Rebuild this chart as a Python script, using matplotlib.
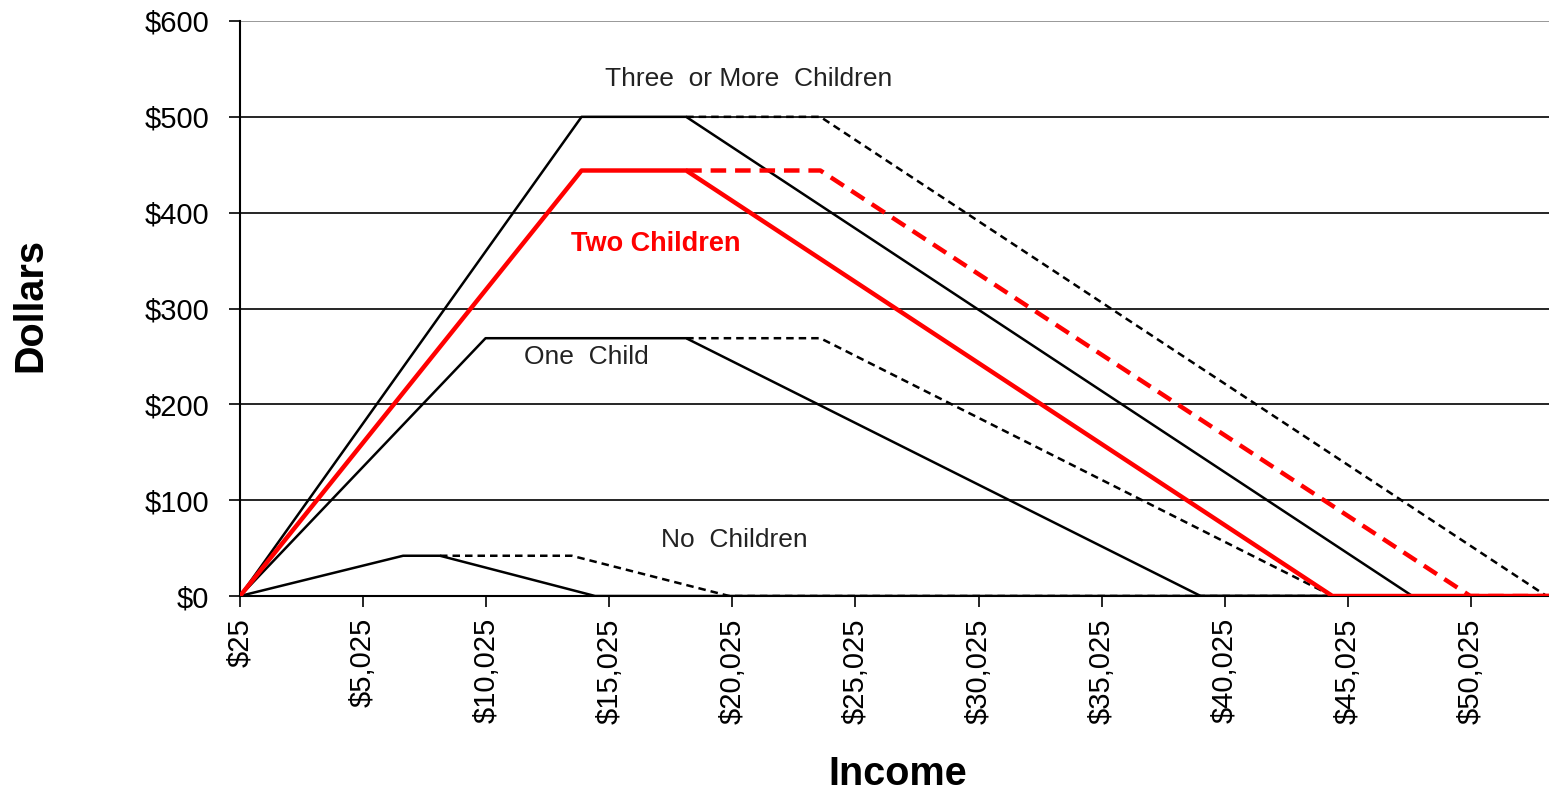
import matplotlib
matplotlib.use("Agg")
import matplotlib.pyplot as plt
from matplotlib.ticker import FuncFormatter

plt.rcParams['font.family'] = ['Liberation Sans', 'DejaVu Sans']

# Income breakpoints (dollars) and credit values (dollars)
x_max = 53200
none_solid_x = [25, 6650, 8150, 14450, x_max]
none_solid_y = [0, 42, 42, 0, 0]
none_dash_x = [8150, 13500, 19900, x_max]
none_dash_y = [42, 42, 0, 0]

one_solid_x = [25, 10000, 18150, 39050, x_max]
one_solid_y = [0, 269, 269, 0, 0]
one_dash_x = [18150, 23600, 44400, x_max]
one_dash_y = [269, 269, 0, 0]

two_solid_x = [25, 13900, 18150, 44400, x_max]
two_solid_y = [0, 444, 444, 0, 0]
two_dash_x = [18150, 23600, 50000, x_max]
two_dash_y = [444, 444, 0, 0]

three_solid_x = [25, 13900, 18150, 47650, x_max]
three_solid_y = [0, 500, 500, 0, 0]
three_dash_x = [18150, 23600, 53100, x_max]
three_dash_y = [500, 500, 0, 0]

x_ticks = [25, 5025, 10025, 15025, 20025, 25025, 30025, 35025, 40025, 45025, 50025]
y_ticks = [0, 100, 200, 300, 400, 500, 600]

fig = plt.figure(figsize=(15.49, 7.94), dpi=100)
ax = fig.add_axes([240/1549, 1-596/794, 1-240/1549, (596-21)/794])

for yv in y_ticks[1:]:
    ax.axhline(yv, color='black' if yv < 600 else '#888888', lw=1.2, zorder=1)

blk = dict(color='black', lw=1.8, zorder=3)
ax.plot(none_solid_x, none_solid_y, **blk)
ax.plot(none_dash_x, none_dash_y, color='black', lw=1.8, ls=(0, (3, 2)), zorder=3)
ax.plot(one_solid_x, one_solid_y, **blk)
ax.plot(one_dash_x, one_dash_y, color='black', lw=1.8, ls=(0, (3, 2)), zorder=3)
ax.plot(three_solid_x, three_solid_y, **blk)
ax.plot(three_dash_x, three_dash_y, color='black', lw=1.8, ls=(0, (3, 2)), zorder=3)
ax.plot(two_solid_x, two_solid_y, color='#ff0000', lw=3.2, zorder=4)
ax.plot(two_dash_x, two_dash_y, color='#ff0000', lw=3.2, ls=(0, (3.5, 2)), zorder=4)

ax.set_xlim(25, x_max)
ax.set_ylim(0, 600)
ax.set_xticks(x_ticks)
ax.set_xticklabels([f"${v:,}" for v in x_ticks], rotation=90, fontsize=21)
ax.set_yticks(y_ticks)
ax.yaxis.set_major_formatter(FuncFormatter(lambda v, p: f"${int(v)}"))
ax.tick_params(axis='y', labelsize=21, direction='out', length=8, width=1.2, pad=14)
ax.tick_params(axis='x', direction='out', length=8, width=1.2, pad=8)

for s in ['top', 'right']:
    ax.spines[s].set_visible(False)
for s in ['left', 'bottom']:
    ax.spines[s].set_linewidth(1.5)
    ax.spines[s].set_color('black')

ax.text(20700, 540, "Three  or More  Children", fontsize=19, ha='center', va='center', color='#222222')
ax.text(16900, 367, "Two Children", fontsize=19.5, ha='center', va='center', color='#ff0000', fontweight='bold')
ax.text(14100, 249, "One  Child", fontsize=19, ha='center', va='center', color='#222222')
ax.text(20100, 58, "No  Children", fontsize=19, ha='center', va='center', color='#222222')

fig.text(30/1549, 1-305/794, "Dollars", rotation=90, fontsize=28.5, fontweight='bold', ha='center', va='center')
fig.text(898/1549, 1-774/794, "Income", fontsize=28.5, fontweight='bold', ha='center', va='center')

fig.savefig("out.png", dpi=100)
